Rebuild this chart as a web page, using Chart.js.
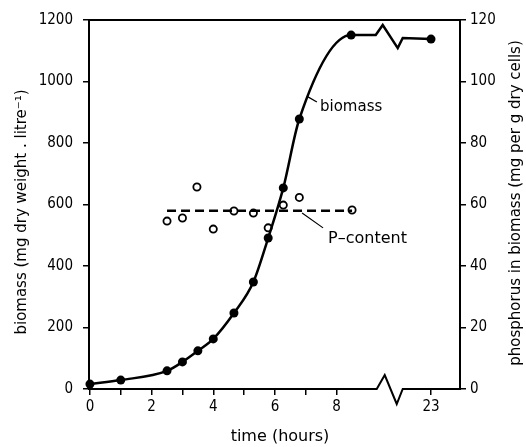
<!DOCTYPE html>
<html>
<head>
<meta charset="utf-8">
<script src="https://cdn.jsdelivr.net/npm/chart.js@4/dist/chart.umd.min.js"></script>
<style>
  body { margin: 0; background: #fff; }
  canvas { display: block; }
</style>
</head>
<body>
<canvas id="myChart" width="526" height="447"></canvas>
<script>
// biomass (filled circles), mg dry weight per litre
const biomassHours = [0, 1, 2.5, 3, 3.5, 4, 4.67, 5.3, 5.78, 6.27, 6.79, 8.47, 23];
const biomassValues = [16, 29, 59, 88, 124, 163, 247, 348, 491, 654, 878, 1151, 1138];

// P-content (open circles), mg per g dry cells
const pHours = [2.5, 3, 3.47, 4, 4.67, 5.3, 5.78, 6.27, 6.79, 8.5];
const pValues = [54.6, 55.6, 65.7, 52, 57.9, 57.2, 52.4, 59.8, 62.3, 58.2];
const pMeanHours = [2.5, 8.5];
const pMean = 58;

// x axis ticks, with a break between 9 and 23 hours
const xTicks = [0, 1, 2, 3, 4, 5, 6, 7, 8, 23];
const xTickLabels = ['0', '', '2', '', '4', '', '6', '', '8', '23'];
const leftTicks = [0, 200, 400, 600, 800, 1000, 1200];
const rightTicks = [0, 20, 40, 60, 80, 100, 120];

const breakAt = 9.3;
const breakShift = 11.94;

function toAxis(t) {
  return t > breakAt + 1 ? t - breakShift : t;
}

function pts(xs, ys) {
  return xs.map(function(x, i) {
    return { x: toAxis(x), y: ys[i] };
  });
}

const font = '"DejaVu Sans Condensed", "DejaVu Sans", sans-serif';
const lastSeg = biomassHours.length - 2;

// frame, axis break, titles and labels
const decoPlugin = {
  id: 'deco',
  afterDraw: function(chart) {
    const c = chart.ctx;
    const a = chart.chartArea;
    const x = chart.scales.x;
    const y = chart.scales.y;
    c.save();
    c.strokeStyle = '#000';
    c.fillStyle = '#000';
    c.lineWidth = 2;
    c.lineJoin = 'miter';

    // frame with broken bottom axis
    const bx = x.getPixelForValue(breakAt);
    c.beginPath();
    c.moveTo(a.left, a.top);
    c.lineTo(a.right, a.top);
    c.moveTo(a.left, a.bottom + 1);
    c.lineTo(a.left, a.top - 1);
    c.moveTo(a.right, a.bottom + 1);
    c.lineTo(a.right, a.top - 1);
    c.moveTo(a.left, a.bottom);
    c.lineTo(bx, a.bottom);
    c.lineTo(bx + 8, a.bottom - 14);
    c.lineTo(bx + 20, a.bottom + 15);
    c.lineTo(bx + 26, a.bottom);
    c.lineTo(a.right, a.bottom);
    c.stroke();

    // break in the biomass curve
    const n = biomassHours.length;
    const x0 = x.getPixelForValue(toAxis(biomassHours[n - 2]));
    const y0 = y.getPixelForValue(biomassValues[n - 2]);
    const x1 = x.getPixelForValue(toAxis(biomassHours[n - 1]));
    const y1 = y.getPixelForValue(biomassValues[n - 1]);
    const cx = bx - 1;
    c.lineWidth = 2.5;
    c.beginPath();
    c.moveTo(x0, y0);
    c.lineTo(cx, y0);
    c.lineTo(cx + 7, y0 - 10);
    c.lineTo(cx + 22, y0 + 13);
    c.lineTo(cx + 27, y1 - 1);
    c.lineTo(x1, y1);
    c.stroke();

    // annotations
    c.lineWidth = 1.2;
    c.beginPath();
    c.moveTo(x.getPixelForValue(7.07), y.getPixelForValue(950));
    c.lineTo(x.getPixelForValue(7.36), y.getPixelForValue(933));
    c.moveTo(x.getPixelForValue(6.88), y.getPixelForValue(572));
    c.lineTo(x.getPixelForValue(7.56), y.getPixelForValue(524));
    c.stroke();

    c.font = '15px "DejaVu Sans"';
    c.textAlign = 'left';
    c.textBaseline = 'alphabetic';
    c.fillText('biomass', x.getPixelForValue(7.46), y.getPixelForValue(904));
    c.font = '16px "DejaVu Sans"';
    c.fillText('P\u2013content', x.getPixelForValue(7.72), y.getPixelForValue(475));

    // axis titles
    c.textAlign = 'center';
    c.textBaseline = 'middle';
    c.font = '16px "DejaVu Sans"';
    c.fillText('time (hours)', 280, 437);

    c.font = '15px "DejaVu Sans"';
    c.save();
    c.translate(22, 212);
    c.rotate(-Math.PI / 2);
    c.fillText('biomass (mg dry weight . litre\u207B\u00B9)', 0, 0);
    c.restore();

    c.save();
    c.translate(516, 203);
    c.rotate(-Math.PI / 2);
    c.fillText('phosphorus in biomass (mg per g dry cells)', 0, 0);
    c.restore();

    c.restore();
  }
};

const tickGrid = {
  drawOnChartArea: false,
  drawTicks: true,
  tickLength: 6,
  color: '#000',
  lineWidth: 1.5
};

const ctx = document.getElementById('myChart').getContext('2d');

const chart = new Chart(ctx, {
  type: 'scatter',
  data: {
    datasets: [{
      label: 'biomass',
      data: pts(biomassHours, biomassValues),
      showLine: true,
      cubicInterpolationMode: 'monotone',
      borderColor: '#000',
      borderWidth: 2.5,
      backgroundColor: '#000',
      pointRadius: 4.5,
      pointBorderWidth: 0,
      yAxisID: 'y',
      clip: false,
      segment: {
        borderColor: function(s) {
          return s.p0DataIndex === lastSeg ? 'rgba(0,0,0,0)' : '#000';
        }
      }
    },
    {
      label: 'P-content mean',
      data: pts(pMeanHours, [pMean, pMean]),
      showLine: true,
      borderColor: '#000',
      borderWidth: 2.5,
      borderDash: [9, 5],
      pointRadius: 0,
      yAxisID: 'y2',
      clip: false
    },
    {
      label: 'P-content',
      data: pts(pHours, pValues),
      showLine: false,
      borderColor: '#000',
      backgroundColor: '#fff',
      pointRadius: 3.6,
      pointBorderWidth: 1.8,
      yAxisID: 'y2',
      clip: false
    }]
  },
  options: {
    responsive: false,
    animation: false,
    devicePixelRatio: 1,
    layout: { padding: { top: 20, left: 0, right: 0, bottom: 0 } },
    plugins: {
      legend: { display: false },
      tooltip: { enabled: false }
    },
    scales: {
      x: {
        type: 'linear',
        min: -0.03,
        max: 12,
        grid: tickGrid,
        border: { display: false },
        afterBuildTicks: function(scale) {
          scale.ticks = xTicks.map(function(t) { return { value: toAxis(t) }; });
        },
        afterFit: function(scale) { scale.height = 58; },
        ticks: {
          padding: 3,
          maxRotation: 0,
          autoSkip: false,
          color: '#000',
          font: { family: font, size: 15 },
          callback: function(value, index) { return xTickLabels[index]; }
        }
      },
      y: {
        position: 'left',
        min: 0,
        max: 1200,
        grid: tickGrid,
        border: { display: false },
        afterBuildTicks: function(scale) {
          scale.ticks = leftTicks.map(function(v) { return { value: v }; });
        },
        afterFit: function(scale) { scale.width = 89; },
        ticks: {
          padding: 10,
          color: '#000',
          font: { family: font, size: 15 },
          callback: function(value) { return String(value); }
        }
      },
      y2: {
        position: 'right',
        min: 0,
        max: 120,
        grid: tickGrid,
        border: { display: false },
        afterBuildTicks: function(scale) {
          scale.ticks = rightTicks.map(function(v) { return { value: v }; });
        },
        afterFit: function(scale) { scale.width = 66; },
        ticks: {
          padding: 4,
          color: '#000',
          font: { family: font, size: 15 },
          callback: function(value) { return String(value); }
        }
      }
    }
  },
  plugins: [decoPlugin]
});
</script>
</body>
</html>
